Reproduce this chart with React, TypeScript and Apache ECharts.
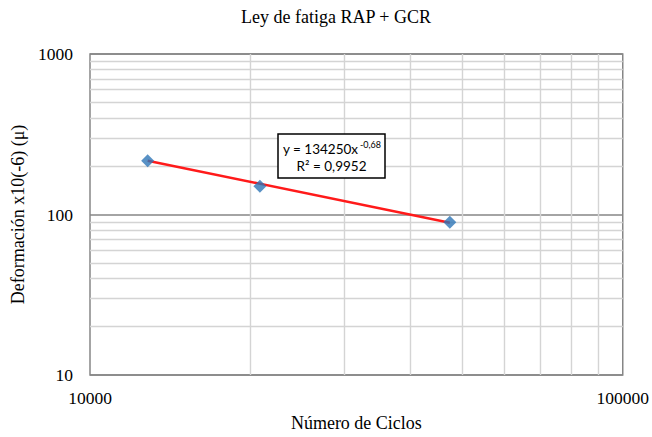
import React, { useEffect, useRef } from "react";
import * as echarts from "echarts";

const chartTitle = "Ley de fatiga RAP + GCR";
const xAxisTitle = "Número de Ciclos";
const yAxisTitle = "Deformación x10(-6) (μ)";

// measured points
const cyclesX = [12830, 20840, 47360];
const strainY = [216, 150, 89.6];

// trend line end points (y = 134250 x^-0.68)
const trendX = [12830, 47360];
const trendY = [216.2, 88.9];

const eqMain = "y = 134250x";
const eqSup = "-0,68";
const eqR2 = "R² = 0,9952";

// minor grid values
const xMinor = [20000, 30000, 40000, 50000, 60000, 70000, 80000, 90000];
const yMinor = [20, 30, 40, 50, 60, 70, 80, 90, 200, 300, 400, 500, 600, 700, 800, 900];

const SERIF = "'Liberation Serif', 'Times New Roman', serif";
const SANS = "Lato, 'Open Sans', sans-serif";

export default function App() {
  const ref = useRef<HTMLDivElement>(null);
  useEffect(() => {
    if (!ref.current) return;
    const chart = echarts.init(ref.current, null, { renderer: "svg" });
    const minorLines = [
      ...xMinor.map((v) => ({ xAxis: v })),
      ...yMinor.map((v) => ({ yAxis: v })),
    ];
    chart.setOption({
      animation: false,
      backgroundColor: "#ffffff",
      title: {
        text: chartTitle,
        left: 336,
        textAlign: "center",
        top: 8,
        padding: 0,
        textStyle: { fontFamily: SERIF, fontSize: 18, fontWeight: "normal", color: "#000" },
      },
      grid: {
        left: 90,
        right: 29,
        top: 54,
        bottom: 62,
        show: true,
        borderColor: "#868686",
        borderWidth: 1.5,
        backgroundColor: "transparent",
      },
      xAxis: {
        type: "log",
        logBase: 10,
        min: 10000,
        max: 100000,
        axisLine: { show: false },
        axisTick: { show: false },
        splitLine: { show: false },
        axisLabel: {
          fontFamily: SERIF,
          fontSize: 17.5,
          color: "#000",
          margin: 14,
          formatter: (v: number) => String(Math.round(v)),
        },
        name: xAxisTitle,
        nameLocation: "middle",
        nameGap: 39,
        nameTextStyle: { fontFamily: SERIF, fontSize: 18, color: "#000" },
      },
      yAxis: {
        type: "log",
        logBase: 10,
        min: 10,
        max: 1000,
        axisLine: { show: false },
        axisTick: { show: false },
        splitLine: { show: true, lineStyle: { color: "#868686", width: 1.5 } },
        axisLabel: {
          fontFamily: SERIF,
          fontSize: 17.5,
          color: "#000",
          margin: 17,
          formatter: (v: number) => String(Math.round(v)),
        },
        name: yAxisTitle,
        nameLocation: "middle",
        nameGap: 62,
        nameTextStyle: { fontFamily: SERIF, fontSize: 18, color: "#000" },
      },
      series: [
        {
          type: "line",
          data: [],
          z: 1,
          silent: true,
          markLine: {
            silent: true,
            z: 1,
            symbol: "none",
            label: { show: false },
            lineStyle: { color: "#d4d4d4", width: 1.4, type: "solid" },
            emphasis: { disabled: true },
            data: minorLines,
          },
        },
        {
          type: "line",
          z: 3,
          data: trendX.map((x, i) => [x, trendY[i]]),
          symbol: "none",
          lineStyle: { color: "#ff1a1a", width: 2.5 },
        },
        {
          type: "scatter",
          z: 4,
          data: cyclesX.map((x, i) => [x, strainY[i]]),
          symbol: "diamond",
          symbolSize: 13,
          itemStyle: { color: "#2e75b6" },
        },
      ],
      graphic: [
        {
          type: "rect",
          z: 10,
          shape: { x: 278, y: 134, width: 107, height: 44 },
          style: { fill: "#ffffff", stroke: "#000000", lineWidth: 1.5 },
        },
        {
          type: "text",
          z: 11,
          x: 283,
          y: 149,
          style: { text: eqMain, fontFamily: SANS, fontSize: 13.5, fill: "#000", verticalAlign: "middle", align: "left" },
        },
        {
          type: "text",
          z: 11,
          x: 360,
          y: 144,
          style: { text: eqSup, fontFamily: SANS, fontSize: 9, fill: "#000", verticalAlign: "middle", align: "left" },
        },
        {
          type: "text",
          z: 11,
          x: 331.5,
          y: 166,
          style: { text: eqR2, fontFamily: SANS, fontSize: 13.5, fill: "#000", verticalAlign: "middle", align: "center" },
        },
      ],
    });
    return () => chart.dispose();
  }, []);
  return (
    <div
      ref={ref}
      style={{ position: "fixed", left: 0, top: 0, width: 652, height: 437, background: "#fff" }}
    />
  );
}
